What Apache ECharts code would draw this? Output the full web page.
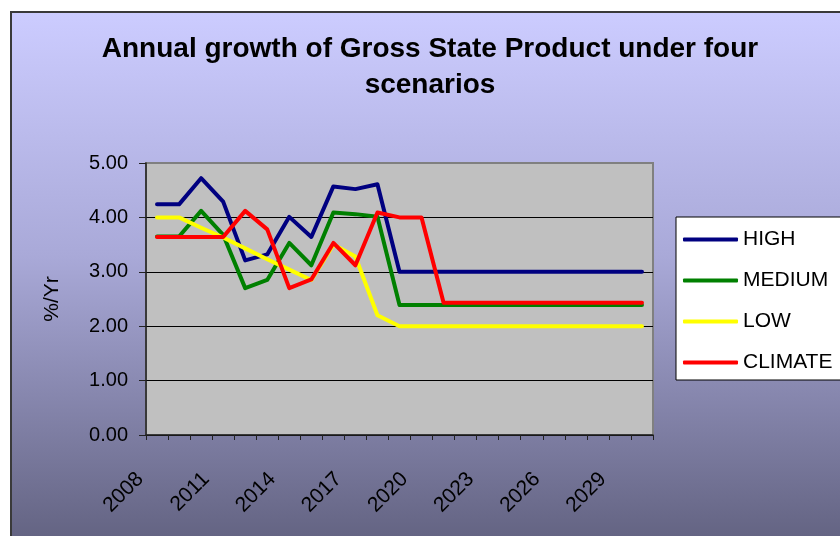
<!DOCTYPE html>
<html>
<head>
<meta charset="utf-8">
<script src="https://cdn.jsdelivr.net/npm/echarts@6/dist/echarts.min.js"></script>
<style>
  html, body { margin: 0; padding: 0; background: #ffffff; }
  #wrap { position: relative; width: 840px; height: 536px; overflow: hidden; }
  #bg { position: absolute; left: 10px; top: 11px; width: 840px; height: 540px;
        border-left: 2px solid #3a3a3a; border-top: 2px solid #3a3a3a;
        background: linear-gradient(to bottom, #ccccff 0%, #a9a9d8 45%, #60607e 100%); }
  #chart { position: absolute; left: 0; top: 0; width: 840px; height: 536px; }
</style>
</head>
<body>
<div id="wrap">
  <div id="bg"></div>
  <div id="chart"></div>
</div>
<script>
const years = ['2008','2009','2010','2011','2012','2013','2014','2015','2016','2017','2018','2019',
               '2020','2021','2022','2023','2024','2025','2026','2027','2028','2029','2030'];
const seriesNames = ['HIGH', 'MEDIUM', 'LOW', 'CLIMATE'];
const high    = [4.24,4.24,4.72,4.29,3.21,3.32,4.01,3.64,4.57,4.52,4.61,3.00,3.00,3.00,3.00,3.00,3.00,3.00,3.00,3.00,3.00,3.00,3.00];
const medium  = [3.65,3.65,4.12,3.68,2.70,2.85,3.53,3.12,4.09,4.06,4.01,2.39,2.39,2.39,2.39,2.39,2.39,2.39,2.39,2.39,2.39,2.39,2.39];
const low     = [4.00,4.00,3.81,3.63,3.43,3.23,3.04,2.85,3.50,3.28,2.20,2.00,2.00,2.00,2.00,2.00,2.00,2.00,2.00,2.00,2.00,2.00,2.00];
const climate = [3.64,3.64,3.64,3.64,4.12,3.78,2.70,2.86,3.53,3.12,4.09,4.00,4.00,2.43,2.43,2.43,2.43,2.43,2.43,2.43,2.43,2.43,2.43];
const yTicks = [0, 1, 2, 3, 4, 5];
const colors = ['#000080', '#008000', '#ffff00', '#ff0000'];

const FONT = "'Liberation Sans', Arial, sans-serif";
const chart = echarts.init(document.getElementById('chart'), null, { renderer: 'canvas' });
const dataSets = [high, medium, low, climate];

chart.setOption({
  animation: false,
  backgroundColor: 'transparent',
  title: {
    text: 'Annual growth of Gross State Product under four\nscenarios',
    left: 430, top: 31, textAlign: 'center', padding: 0,
    textStyle: { fontFamily: FONT, fontSize: 28, fontWeight: 'bold', color: '#000', lineHeight: 36 }
  },
  legend: {
    orient: 'vertical', left: 676, top: 217,
    padding: [12, 40, 7, 7],
    backgroundColor: '#ffffff', borderColor: '#000000', borderWidth: 1,
    itemWidth: 55, itemHeight: 4, itemGap: 20,
    icon: 'roundRect',
    textStyle: { fontFamily: FONT, fontSize: 21, lineHeight: 21, color: '#000' },
    data: seriesNames
  },
  grid: {
    left: 146, right: 187, top: 163, bottom: 101,
    show: true, backgroundColor: '#c0c0c0', borderColor: '#808080', borderWidth: 2,
    outerBoundsMode: 'none'
  },
  xAxis: {
    type: 'category', data: years, boundaryGap: true,
    axisLine: { show: true, lineStyle: { color: '#222', width: 1.5 } },
    axisTick: { show: true, interval: 0, alignWithLabel: false, length: 5, lineStyle: { color: '#222' } },
    axisLabel: { interval: 2, rotate: 45, margin: 24, padding: [0, 24, 0, 0],
                 fontFamily: FONT, fontSize: 21, color: '#000' },
    splitLine: { show: false }
  },
  yAxis: {
    type: 'value', min: yTicks[0], max: yTicks[yTicks.length - 1], interval: 1,
    name: '%/Yr', nameLocation: 'middle', nameGap: 83,
    nameTextStyle: { fontFamily: FONT, fontSize: 21, color: '#000' },
    axisLine: { show: true, lineStyle: { color: '#222', width: 1.5 } },
    axisTick: { show: true, length: 7, lineStyle: { color: '#222' } },
    axisLabel: { margin: 18, fontFamily: FONT, fontSize: 20, color: '#000',
                 padding: [5, 0, 0, 0],
                 formatter: v => v.toFixed(2) },
    splitLine: { show: true, lineStyle: { color: ['#000','#000','#000','#000','#000','#808080'], width: 1 } }
  },
  series: seriesNames.map((n, i) => ({
    name: n, type: 'line', data: dataSets[i],
    symbol: 'none', showSymbol: false, smooth: false,
    color: colors[i],
    lineStyle: { color: colors[i], width: 4, join: 'round', cap: 'round' },
    z: 2 + i
  }))
});
</script>
</body>
</html>
